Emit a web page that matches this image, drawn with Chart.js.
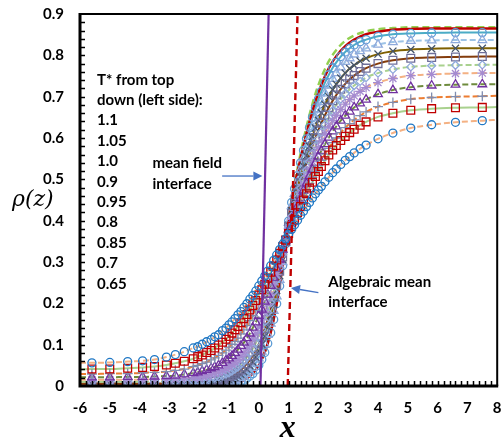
<!DOCTYPE html>
<html>
<head>
<meta charset="utf-8">
<script src="https://cdn.jsdelivr.net/npm/chart.js@4.4.1/dist/chart.umd.min.js"></script>
<style>
  html, body { margin: 0; padding: 0; background: #fff; }
  #wrap { width: 504px; height: 442px; position: relative; }
</style>
</head>
<body>
<div id="wrap"><canvas id="chart-profiles"></canvas></div>
<script>
/* =====================
   DATA
===================== */

// x positions of the simulation points (shared by every profile)
const xs = [-5.6, -5, -4.4, -3.9, -3.5, -3.1, -2.8, -2.5, -2.2, -1.9, -1.6, -1.35, -1.1, -0.9, -0.7, -0.5, -0.3, -0.1,
            0.1, 0.3, 0.5, 0.7, 0.9, 1.1, 1.3, 1.5, 1.7, 1.9, 2.1, 2.35, 2.6, 2.9, 3.2, 3.6, 4, 4.5, 5.1, 5.8, 6.6, 7.5];

// density profiles, highest temperature first
const rhoT110 = [0.056,0.057,0.059,0.061,0.064,0.070,0.076,0.083,0.092,0.101,0.112,0.124,0.140,0.155,0.172,0.190,0.210,0.230,0.254,0.278,
                 0.304,0.330,0.356,0.379,0.401,0.423,0.444,0.465,0.483,0.505,0.525,0.546,0.564,0.583,0.598,0.612,0.624,0.632,0.638,0.642];
const rhoT105 = [0.041,0.041,0.043,0.045,0.047,0.051,0.055,0.060,0.066,0.075,0.086,0.099,0.113,0.128,0.144,0.163,0.184,0.207,0.233,0.261,
                 0.290,0.321,0.353,0.386,0.419,0.450,0.479,0.507,0.531,0.559,0.582,0.604,0.621,0.639,0.651,0.660,0.667,0.671,0.673,0.674];
const rhoT100 = [0.029,0.030,0.030,0.032,0.033,0.035,0.038,0.041,0.047,0.054,0.063,0.074,0.087,0.101,0.116,0.136,0.158,0.183,0.212,0.244,
                 0.279,0.316,0.354,0.390,0.425,0.459,0.490,0.520,0.546,0.575,0.600,0.625,0.644,0.663,0.676,0.686,0.694,0.698,0.700,0.701];
const rhoT095 = [0.021,0.021,0.022,0.022,0.023,0.024,0.025,0.028,0.031,0.036,0.043,0.050,0.062,0.073,0.088,0.105,0.127,0.154,0.185,0.221,
                 0.262,0.306,0.352,0.396,0.435,0.473,0.508,0.540,0.569,0.601,0.628,0.654,0.674,0.693,0.706,0.716,0.723,0.727,0.729,0.730];
const rhoT090 = [0.015,0.015,0.015,0.015,0.016,0.016,0.017,0.018,0.020,0.023,0.028,0.034,0.042,0.052,0.064,0.080,0.101,0.127,0.160,0.199,
                 0.245,0.297,0.352,0.403,0.446,0.487,0.525,0.561,0.593,0.627,0.655,0.682,0.702,0.722,0.734,0.744,0.751,0.754,0.756,0.757];
const rhoT085 = [0.010,0.010,0.010,0.010,0.010,0.011,0.011,0.012,0.013,0.015,0.018,0.022,0.029,0.036,0.046,0.060,0.079,0.104,0.137,0.178,
                 0.228,0.286,0.350,0.410,0.456,0.501,0.543,0.581,0.614,0.650,0.680,0.707,0.727,0.746,0.757,0.766,0.772,0.775,0.776,0.777];
const rhoT080 = [0.006,0.006,0.006,0.006,0.006,0.006,0.006,0.007,0.008,0.009,0.011,0.014,0.019,0.025,0.034,0.046,0.063,0.087,0.119,0.161,
                 0.214,0.278,0.349,0.417,0.467,0.516,0.560,0.601,0.636,0.674,0.704,0.731,0.751,0.769,0.780,0.788,0.793,0.795,0.796,0.797];
const rhoT075 = [0.004,0.004,0.004,0.004,0.004,0.004,0.004,0.004,0.005,0.006,0.007,0.009,0.012,0.017,0.024,0.034,0.049,0.070,0.101,0.143,
                 0.198,0.267,0.347,0.424,0.479,0.532,0.580,0.624,0.661,0.700,0.730,0.757,0.776,0.793,0.803,0.810,0.814,0.816,0.817,0.817];
const rhoT070 = [0.002,0.002,0.002,0.002,0.002,0.002,0.002,0.002,0.002,0.003,0.004,0.005,0.008,0.010,0.015,0.023,0.035,0.055,0.083,0.124,
                 0.182,0.257,0.347,0.435,0.494,0.551,0.603,0.648,0.687,0.727,0.757,0.784,0.802,0.817,0.826,0.832,0.835,0.836,0.837,0.837];
const rhoT065 = [0.001,0.001,0.001,0.001,0.001,0.001,0.001,0.001,0.001,0.001,0.002,0.003,0.005,0.006,0.009,0.014,0.024,0.039,0.064,0.103,
                 0.161,0.242,0.344,0.444,0.509,0.570,0.625,0.673,0.713,0.753,0.783,0.808,0.825,0.838,0.846,0.851,0.853,0.854,0.855,0.855];

// extra points in the interfacial region, where the samples are denser
const xsInner = [-2.05, -1.75, -1.48, -1.22, -1.0, -0.8, -0.6, -0.4, -0.2, 0, 0.2, 0.4, 0.6, 0.8, 1.0,
                 1.2, 1.4, 1.6, 1.8, 2.0, 2.22, 2.48, 2.75, 3.05, 3.4];
const innerT110 = [0.095,0.107,0.119,0.134,0.148,0.163,0.180,0.199,0.219,0.242,0.266,0.291,0.317,0.343,0.367,0.390,0.413,0.434,0.455,0.474,0.494,0.516,0.536,0.555,0.574];
const innerT105 = [0.071,0.081,0.092,0.106,0.120,0.136,0.153,0.173,0.195,0.220,0.246,0.275,0.305,0.337,0.369,0.402,0.434,0.465,0.493,0.519,0.545,0.571,0.594,0.613,0.631];
const innerT100 = [0.050,0.058,0.068,0.080,0.094,0.108,0.126,0.146,0.170,0.197,0.228,0.261,0.297,0.335,0.373,0.408,0.442,0.475,0.505,0.533,0.561,0.589,0.613,0.635,0.654];
const innerT095 = [0.033,0.039,0.046,0.056,0.067,0.080,0.097,0.116,0.141,0.170,0.204,0.242,0.284,0.330,0.377,0.416,0.454,0.490,0.524,0.555,0.585,0.616,0.642,0.664,0.684];
const innerT090 = [0.022,0.025,0.031,0.038,0.047,0.058,0.072,0.090,0.114,0.143,0.179,0.221,0.270,0.324,0.380,0.425,0.467,0.507,0.543,0.577,0.610,0.642,0.669,0.693,0.713];
const innerT085 = [0.014,0.016,0.020,0.025,0.032,0.041,0.053,0.069,0.091,0.120,0.156,0.202,0.257,0.318,0.384,0.433,0.479,0.522,0.562,0.598,0.632,0.666,0.694,0.718,0.737];
const innerT080 = [0.008,0.010,0.012,0.017,0.022,0.029,0.039,0.054,0.074,0.102,0.139,0.186,0.245,0.312,0.386,0.442,0.492,0.538,0.581,0.619,0.655,0.690,0.718,0.742,0.761];
const innerT075 = [0.005,0.006,0.008,0.011,0.015,0.020,0.028,0.041,0.058,0.084,0.120,0.169,0.231,0.306,0.389,0.452,0.506,0.557,0.603,0.643,0.681,0.717,0.745,0.768,0.786];
const innerT070 = [0.002,0.003,0.004,0.006,0.009,0.013,0.019,0.029,0.044,0.067,0.101,0.151,0.217,0.300,0.395,0.465,0.523,0.578,0.626,0.669,0.708,0.743,0.771,0.793,0.810];
const innerT065 = [0.001,0.001,0.001,0.002,0.004,0.007,0.011,0.019,0.030,0.050,0.081,0.129,0.199,0.291,0.399,0.477,0.540,0.598,0.650,0.694,0.734,0.770,0.797,0.817,0.833];

// bulk densities used at the two ends of each fitted line (x = -6 and x = 8)
const vaporRho  = [0.056, 0.040, 0.029, 0.021, 0.015, 0.010, 0.006, 0.004, 0.002, 0.001];
const liquidRho = [0.644, 0.675, 0.702, 0.730, 0.757, 0.777, 0.797, 0.817, 0.837, 0.855];

// the two steepest theory curves
const fitRed   = [0.001,0.001,0.001,0.001,0.001,0.001,0.001,0.001,0.001,0.001,0.002,0.003,0.005,0.006,0.009,0.014,0.024,0.039,0.064,0.103,
                  0.161,0.242,0.345,0.449,0.518,0.582,0.639,0.689,0.729,0.769,0.798,0.822,0.838,0.851,0.857,0.862,0.864,0.865,0.865,0.865];
const fitGreen = [0.001,0.001,0.001,0.001,0.001,0.001,0.001,0.001,0.001,0.001,0.002,0.003,0.005,0.006,0.009,0.014,0.024,0.040,0.065,0.104,
                  0.164,0.245,0.349,0.453,0.527,0.596,0.656,0.707,0.747,0.786,0.813,0.835,0.848,0.858,0.863,0.866,0.868,0.868,0.868,0.868];

// interface positions (two end points each)
const meanFieldX = [0.056, 0.33];
const meanFieldY = [0, 0.9];
const algebraicX = [0.97, 1.3];
const algebraicY = [0, 0.9];

// axis ticks
const xTicks = [-6, -5, -4, -3, -2, -1, 0, 1, 2, 3, 4, 5, 6, 7, 8];
const yTicks = [0, 0.1, 0.2, 0.3, 0.4, 0.5, 0.6, 0.7, 0.8, 0.9];

// legend text
const legendHead  = ['T* from top', 'down (left side):'];
const legendTemps = ['1.1', '1.05', '1.0', '0.9', '0.95', '0.8', '0.85', '0.7', '0.65'];


/* =====================
   STYLES
===================== */

const profiles = [rhoT110, rhoT105, rhoT100, rhoT095, rhoT090, rhoT085, rhoT080, rhoT075, rhoT070, rhoT065];
const inners   = [innerT110, innerT105, innerT100, innerT095, innerT090, innerT085, innerT080, innerT075, innerT070, innerT065];

const markerStyle = [
    { style: 'circle',    color: '#1F77C4', r: 4 },
    { style: 'rect',      color: '#C00000', r: 5.5 },
    { style: 'cross',     color: '#7F8CB0', r: 5 },
    { style: 'triangle',  color: '#7030A0', r: 5 },
    { style: 'star',      color: '#A58BD0', r: 5 },
    { style: 'rectRot',   color: '#8FAADC', r: 4 },
    { style: 'rect',      color: '#6F6F9A', r: 5.5 },
    { style: 'crossRot',  color: '#44546A', r: 5 },
    { style: 'triangle',  color: '#8FAADC', r: 5 },
    { style: 'circle',    color: '#5B9BD5', r: 4 }
];

const fitStyle = [
    { color: '#F4B183', dash: [6, 3] },
    { color: '#A9D18E', dash: [] },
    { color: '#ED7D31', dash: [6, 3] },
    { color: '#6E8B3D', dash: [6, 3] },
    { color: '#F4B183', dash: [6, 3] },
    { color: '#A9D18E', dash: [6, 3] },
    { color: '#843C0C', dash: [] },
    { color: '#7F6000', dash: [] },
    { color: '#9DC3E6', dash: [6, 3] },
    { color: '#4BACC6', dash: [] }
];


/* =====================
   DATASETS
===================== */

function toPoints(xArr, yArr) {
    return xArr.map((x, i) => ({ x: x, y: yArr[i] }));
}

const datasets = [];

// vertical interface lines on top
datasets.push({
    data: toPoints(meanFieldX, meanFieldY),
    showLine: true, borderColor: '#7030A0', borderWidth: 2.2,
    pointRadius: 0, order: -3
});
datasets.push({
    data: toPoints(algebraicX, algebraicY),
    showLine: true, borderColor: '#C00000', borderWidth: 2.4, borderDash: [7, 4],
    pointRadius: 0, order: -3
});

// theory curves, under the markers
datasets.push({
    data: [{ x: -6, y: 0.001 }].concat(toPoints(xs, fitRed), [{ x: 8, y: 0.865 }]),
    showLine: true, borderColor: '#C00000', borderWidth: 2.4,
    pointRadius: 0, cubicInterpolationMode: 'monotone', order: 15
});
datasets.push({
    data: [{ x: -6, y: 0.001 }].concat(toPoints(xs, fitGreen), [{ x: 8, y: 0.868 }]),
    showLine: true, borderColor: '#92D050', borderWidth: 2.4, borderDash: [7, 4],
    pointRadius: 0, cubicInterpolationMode: 'monotone', order: 15
});

profiles.forEach((rho, i) => {

    const pts = toPoints(xs, rho).concat(toPoints(xsInner, inners[i]))
        .sort((p, q) => p.x - q.x);

    // markers
    datasets.push({
        data: pts,
        showLine: false,
        pointStyle: markerStyle[i].style,
        pointRadius: markerStyle[i].r,
        pointBorderColor: markerStyle[i].color,
        pointBackgroundColor: 'rgba(0,0,0,0)',
        pointBorderWidth: 1.3,
        order: i
    });

    // fitted line
    datasets.push({
        data: [{ x: -6, y: vaporRho[i] }].concat(pts, [{ x: 8, y: liquidRho[i] }]),
        showLine: true,
        borderColor: fitStyle[i].color,
        borderDash: fitStyle[i].dash,
        borderWidth: 2,
        pointRadius: 0,
        cubicInterpolationMode: 'monotone',
        order: 20 + i
    });
});


/* =====================
   DECORATION PLUGIN
===================== */

function drawArrow(ctx, x1, y1, x2, y2) {

    const ang = Math.atan2(y2 - y1, x2 - x1);
    const len = 9;

    ctx.save();
    ctx.strokeStyle = '#4472C4';
    ctx.fillStyle = '#4472C4';
    ctx.lineWidth = 1.3;
    ctx.beginPath();
    ctx.moveTo(x1, y1);
    ctx.lineTo(x2 - len * Math.cos(ang), y2 - len * Math.sin(ang));
    ctx.stroke();

    ctx.beginPath();
    ctx.moveTo(x2, y2);
    ctx.lineTo(x2 - len * Math.cos(ang) + 4.5 * Math.sin(ang), y2 - len * Math.sin(ang) - 4.5 * Math.cos(ang));
    ctx.lineTo(x2 - len * Math.cos(ang) - 4.5 * Math.sin(ang), y2 - len * Math.sin(ang) + 4.5 * Math.cos(ang));
    ctx.closePath();
    ctx.fill();
    ctx.restore();
}

const decor = {
    id: 'decor',
    afterDraw(chart) {

        const ctx = chart.ctx;
        const a = chart.chartArea;
        const sx = chart.scales.x;
        const sy = chart.scales.y;

        ctx.save();
        ctx.strokeStyle = '#000';

        // minor ticks, pointing inside
        ctx.lineWidth = 1.5;
        ctx.beginPath();
        for (let k = 1; k < 45; k++) {
            const py = Math.round(sy.getPixelForValue(k * 0.02)) + 0.5;
            ctx.moveTo(a.left, py);
            ctx.lineTo(a.left + 5, py);
        }
        for (let k = 1; k < 70; k++) {
            const px = Math.round(sx.getPixelForValue(-6 + k * 0.2)) + 0.5;
            ctx.moveTo(px, a.bottom);
            ctx.lineTo(px, a.bottom - 5);
        }
        ctx.stroke();

        // frame
        ctx.lineWidth = 2;
        ctx.beginPath();
        ctx.moveTo(a.left, a.top);
        ctx.lineTo(a.right, a.top);
        ctx.lineTo(a.right, a.bottom);
        ctx.stroke();
        ctx.lineWidth = 3;
        ctx.beginPath();
        ctx.moveTo(a.left, a.top - 1);
        ctx.lineTo(a.left, a.bottom);
        ctx.lineTo(a.right + 1, a.bottom);
        ctx.stroke();

        // legend block
        ctx.fillStyle = '#000';
        ctx.font = 'bold 15px Lato';
        ctx.textAlign = 'left';
        ctx.textBaseline = 'middle';
        const lines = legendHead.concat(legendTemps);
        lines.forEach((t, i) => {
            ctx.fillText(t, sx.getPixelForValue(-5.43), sy.getPixelForValue(0.741 - i * 0.0494));
        });

        ctx.fillText('mean field', sx.getPixelForValue(-3.57), sy.getPixelForValue(0.54));
        ctx.fillText('interface',  sx.getPixelForValue(-3.57), sy.getPixelForValue(0.489));
        ctx.fillText('Algebraic mean', sx.getPixelForValue(2.33), sy.getPixelForValue(0.252));
        ctx.fillText('interface',      sx.getPixelForValue(2.33), sy.getPixelForValue(0.2025));

        drawArrow(ctx, sx.getPixelForValue(-1.23), sy.getPixelForValue(0.508),
                       sx.getPixelForValue(0.12),  sy.getPixelForValue(0.508));
        drawArrow(ctx, sx.getPixelForValue(2.0),  sy.getPixelForValue(0.226),
                       sx.getPixelForValue(1.08), sy.getPixelForValue(0.237));

        // axis titles
        ctx.font = 'italic 22px "DejaVu Serif"';
        ctx.fillText('\u03C1(z)', 12, sy.getPixelForValue(0.45));
        ctx.font = 'bold italic 32px "Liberation Serif"';
        ctx.textAlign = 'center';
        ctx.fillText('x', sx.getPixelForValue(0.97), 429);

        ctx.restore();
    }
};


/* =====================
   CREATE CHART
===================== */

const tickFont = { family: 'Lato', weight: 'bold', size: 15 };

const chart = new Chart(document.getElementById('chart-profiles'), {
    type: 'scatter',
    data: { datasets: datasets },
    options: {
        responsive: true,
        maintainAspectRatio: false,
        animation: false,
        layout: { padding: { top: 14, right: 3, left: 0, bottom: 0 } },
        plugins: {
            legend: { display: false },
            tooltip: { enabled: false }
        },
        scales: {
            x: {
                type: 'linear',
                min: -6, max: 8,
                afterFit: s => { s.height = 56; s.paddingLeft = 0; s.paddingRight = 0; },
                afterBuildTicks: s => { s.ticks = xTicks.map(v => ({ value: v })); },
                grid: { display: false, drawTicks: false },
                border: { display: false },
                ticks: {
                    font: tickFont, color: '#000', padding: 13,
                    maxRotation: 0, autoSkip: false,
                    callback: v => String(v)
                }
            },
            y: {
                type: 'linear',
                min: 0, max: 0.9,
                afterFit: s => { s.width = 80; s.paddingTop = 0; s.paddingBottom = 0; },
                afterBuildTicks: s => { s.ticks = yTicks.map(v => ({ value: v })); },
                grid: { display: false, drawTicks: false },
                border: { display: false },
                ticks: {
                    font: tickFont, color: '#000', padding: 16,
                    autoSkip: false,
                    callback: v => v === 0 ? '0' : v.toFixed(1)
                }
            }
        }
    },
    plugins: [decor]
});
</script>
</body>
</html>
